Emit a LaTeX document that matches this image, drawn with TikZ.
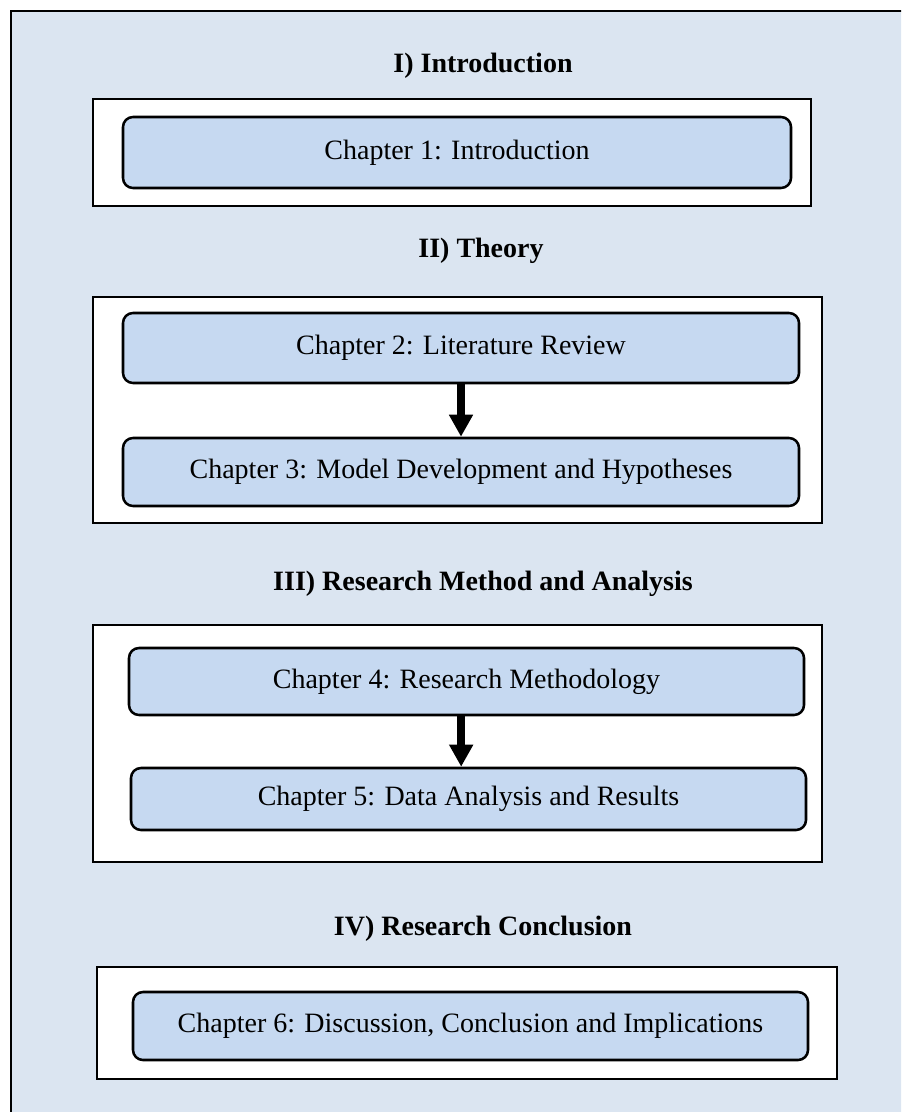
\documentclass[tikz,border=0pt]{standalone}
\usepackage{fontspec}
\setmainfont{Liberation Serif}
\usetikzlibrary{arrows.meta}
\definecolor{pagebg}{HTML}{DBE5F1}
\definecolor{chapfill}{HTML}{C6D9F1}
\begin{document}
\begin{tikzpicture}[x=0.75pt, y=-0.75pt]
    % styles
    \tikzstyle{part}=[font=\fontsize{21}{25}\selectfont\bfseries, anchor=base]
    \tikzstyle{section}=[draw=black, line width=1.5pt, fill=white]
    \tikzstyle{chapter}=[draw=black, line width=1.9pt, fill=chapfill, rounded corners=7.5pt,
                         font=\fontsize{21}{25}\selectfont, inner sep=0pt]
    \tikzstyle{flow}=[line width=6pt, -{Triangle[width=17pt, length=16.5pt]}]

    % 1. page frame
    \useasboundingbox (0,0) rectangle (901,1112);
    \clip (0,0) rectangle (901,1112);
    \draw[line width=1.5pt, fill=pagebg] (11,11) rectangle (920,1130);

    % 2. part I
    \node[part] (p1) at (483,73) {I) Introduction};
    \draw[section] (93,99) rectangle (811,206);
    \node[chapter, minimum width=501pt, minimum height=53.25pt] (c1) at (457,152.5) {Chapter 1: Introduction};

    % 3. part II
    \node[part] (p2) at (481,258) {II) Theory};
    \draw[section] (93,297) rectangle (822,523);
    \node[chapter, minimum width=507pt, minimum height=52.5pt] (c2) at (461,348) {Chapter 2: Literature Review};
    \node[chapter, minimum width=507pt, minimum height=51pt] (c3) at (461,472) {Chapter 3: Model Development and Hypotheses};
    \draw[flow] (c2.south) -- (c3.north);

    % 4. part III
    \node[part] (p3) at (483,590) {III) Research Method and Analysis};
    \draw[section] (93,625) rectangle (822,862);
    \node[chapter, minimum width=506.25pt, minimum height=50.25pt] (c4) at (466.5,681.5) {Chapter 4: Research Methodology};
    \node[chapter, minimum width=506.25pt, minimum height=46.5pt] (c5) at (468.5,799) {Chapter 5: Data Analysis and Results};
    \draw[flow] ([xshift=-4pt]c4.south) -- ([xshift=-5.5pt]c5.north);

    % 5. part IV
    \node[part] (p4) at (483,935) {IV) Research Conclusion};
    \draw[section] (97,967) rectangle (837,1079);
    \node[chapter, minimum width=506.25pt, minimum height=51pt] (c6) at (470.5,1026) {Chapter 6: Discussion, Conclusion and Implications};
\end{tikzpicture}
\end{document}
